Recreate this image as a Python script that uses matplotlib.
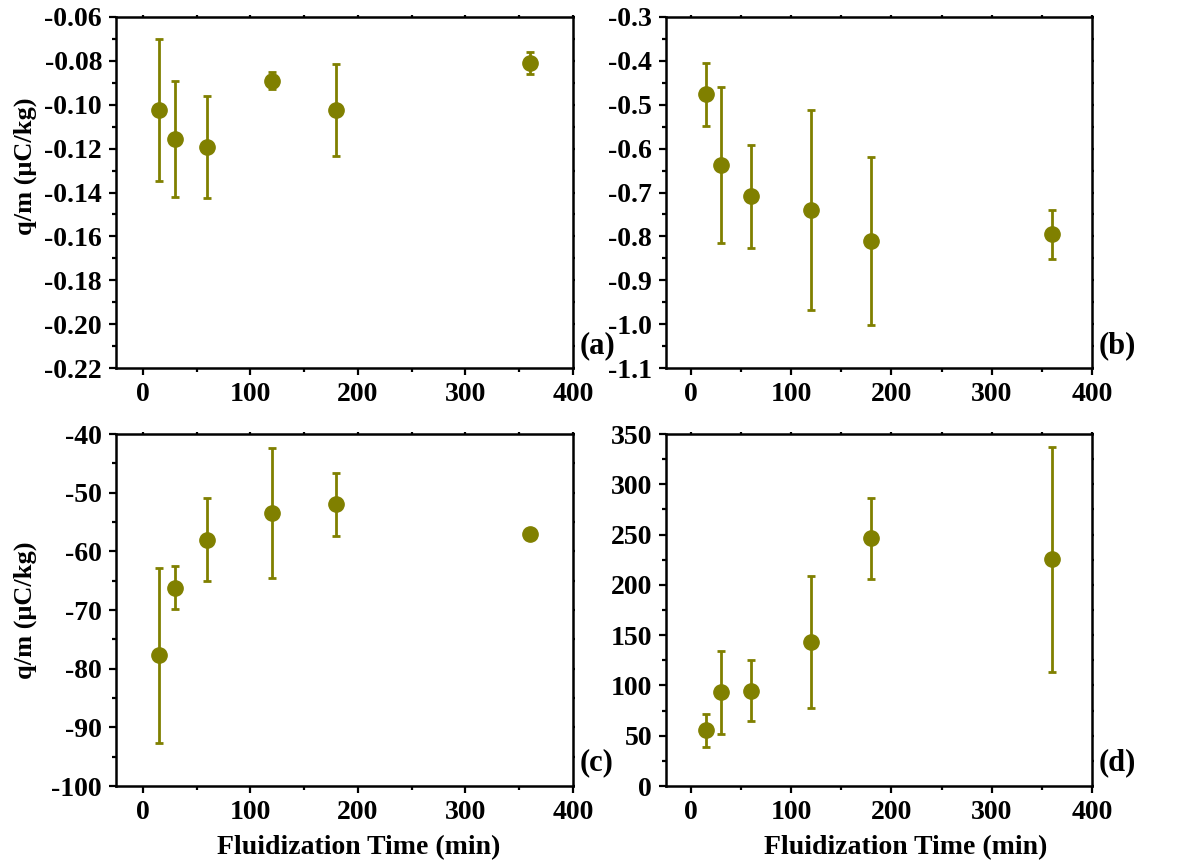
import matplotlib.pyplot as plt
import numpy as np
from matplotlib.ticker import MultipleLocator, FormatStrFormatter

plt.rcParams['font.family'] = ['Liberation Serif', 'DejaVu Serif']
plt.rcParams['font.weight'] = 'bold'
plt.rcParams['axes.unicode_minus'] = False

# fluidization time (min)
time_min = [15, 30, 60, 120, 180, 360]

# q/m values and error bars for each panel
qm_a = [-0.1023, -0.1156, -0.1193, -0.0890, -0.1023, -0.0808]
err_a = [0.0323, 0.0263, 0.0231, 0.0040, 0.0211, 0.0050]

qm_b = [-0.476, -0.637, -0.709, -0.739, -0.811, -0.795]
err_b = [0.072, 0.178, 0.117, 0.228, 0.191, 0.056]

qm_c = [-77.7, -66.2, -58.0, -53.5, -52.0, -57.0]
err_c = [14.9, 3.7, 7.05, 11.1, 5.4, 0.0]

qm_d = [55.4, 93.2, 94.9, 143.3, 246.5, 225.6]
err_d = [16.3, 41.3, 30.5, 65.4, 40.2, 111.8]

panels = [
    # values, errors, ylim, major step, format, label, rect
    (qm_a, err_a, (-0.22, -0.06), 0.02, '%.2f', '(a)', [0.0982, 0.5755, 0.3870, 0.4049]),
    (qm_b, err_b, (-1.1, -0.3), 0.1, '%.1f', '(b)', [0.5639, 0.5755, 0.3607, 0.4049]),
    (qm_c, err_c, (-100, -40), 10, '%d', '(c)', [0.0982, 0.0934, 0.3870, 0.4060]),
    (qm_d, err_d, (0, 350), 50, '%d', '(d)', [0.5639, 0.0934, 0.3607, 0.4060]),
]
ylabel_pos = {0: 0.575, 2: 0.5}
xlabel_pos = {2: 0.532, 3: 0.563}

color = '#808000'
fig = plt.figure(figsize=(11.81, 8.67), dpi=100)

for i, (vals, errs, ylim, step, fmt, tag, rect) in enumerate(panels):
    ax = fig.add_axes(rect)
    ax.errorbar(time_min, vals, yerr=errs, fmt='o', color=color, ecolor=color,
                markersize=11, elinewidth=2, capsize=3, capthick=2)
    ax.set_xlim(-25, 400)
    ax.set_ylim(*ylim)
    ax.xaxis.set_major_locator(MultipleLocator(100))
    ax.xaxis.set_minor_locator(MultipleLocator(50))
    ax.yaxis.set_major_locator(MultipleLocator(step))
    ax.yaxis.set_minor_locator(MultipleLocator(step / 2))
    ax.yaxis.set_major_formatter(FormatStrFormatter(fmt))
    for s in ax.spines.values():
        s.set_linewidth(1.8)
    ax.tick_params(axis='both', which='both', direction='out', width=1.6,
                   labelsize=20, pad=5)
    ax.tick_params(which='major', length=5)
    ax.tick_params(which='minor', length=3)
    # tiny ticks on the right and top spines
    ax.tick_params(which='both', right=True, top=True)
    for t in ax.yaxis.get_major_ticks() + ax.yaxis.get_minor_ticks():
        t.tick2line.set_markersize(1.5)
    for t in ax.xaxis.get_major_ticks() + ax.xaxis.get_minor_ticks():
        t.tick2line.set_markersize(1.5)
    for lab in ax.get_xticklabels() + ax.get_yticklabels():
        lab.set_fontweight('bold')
    ax.text(1.015, 0.065, tag, transform=ax.transAxes, fontsize=22,
            fontweight='bold', ha='left', va='center')
    if i % 2 == 0:
        ax.set_ylabel('q/m (μC/kg)', fontsize=19, fontweight='bold')
        ax.yaxis.set_label_coords(-0.172, ylabel_pos[i])
    if i >= 2:
        ax.set_xlabel('Fluidization Time (min)', fontsize=20, fontweight='bold')
        ax.xaxis.set_label_coords(xlabel_pos[i], -0.14)

plt.savefig('out.png', dpi=100)
